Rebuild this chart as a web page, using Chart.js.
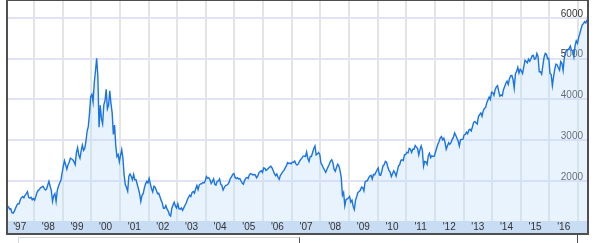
<!DOCTYPE html>
<html>
<head>
<meta charset="utf-8">
<script src="https://cdn.jsdelivr.net/npm/chart.js@4/dist/chart.umd.min.js"></script>
<style>
  html, body { margin: 0; padding: 0; background: #fff; }
  #wrap { position: relative; width: 596px; height: 243px; overflow: hidden; }
  #chart { position: absolute; left: 8px; top: 1px; }
  .edge { position: absolute; background: #4f4f4f; }
  .faint { position: absolute; border: 1px solid #d6d6d6; border-bottom: none; }
</style>
</head>
<body>
<div id="wrap">
  <canvas id="chart" width="579" height="232"></canvas>
  <div class="edge" style="left:6px;top:0;width:2px;height:235px"></div>
  <div class="edge" style="left:6px;top:0;width:583px;height:1px"></div>
  <div class="edge" style="left:587px;top:0;width:2px;height:235px"></div>
  <div class="edge" style="left:6px;top:233px;width:583px;height:2px"></div>
  <div class="faint" style="left:18px;top:237px;width:280px;height:10px;border-right:1px solid #555"></div>
  <div class="edge" style="left:577px;top:235px;width:1px;height:8px"></div>
</div>
<script>
// semi-monthly closes, first and second half of each month
const v1997 = [1290, 1380, 1370, 1310, 1320, 1220, 1210, 1260, 1330, 1400, 1440, 1440, 1540, 1590, 1620, 1590, 1650, 1690, 1740, 1600, 1580, 1600, 1540, 1570];
const v1998 = [1530, 1620, 1720, 1770, 1790, 1840, 1850, 1870, 1820, 1780, 1800, 1900, 1990, 1870, 1770, 1500, 1640, 1690, 1500, 1770, 1870, 1950, 2010, 2190];
const v1999 = [2350, 2500, 2400, 2290, 2400, 2460, 2560, 2540, 2520, 2470, 2400, 2690, 2820, 2640, 2560, 2740, 2880, 2750, 2800, 2970, 3220, 3340, 3660, 4070];
const v2000 = [4130, 3940, 4410, 4700, 5010, 4570, 3320, 3860, 3530, 3400, 3870, 3970, 4250, 3770, 3860, 4210, 3900, 3670, 3140, 3370, 2880, 2600, 2650, 2470];
const v2001 = [2630, 2770, 2560, 2150, 1920, 1840, 1750, 2120, 2170, 2110, 2030, 2160, 2030, 2030, 1920, 1810, 1690, 1500, 1650, 1690, 1830, 1930, 1990, 1950];
const v2002 = [2060, 1930, 1810, 1730, 1870, 1850, 1770, 1690, 1700, 1620, 1530, 1460, 1330, 1330, 1400, 1310, 1260, 1170, 1140, 1330, 1410, 1480, 1390, 1340];
const v2003 = [1440, 1320, 1310, 1340, 1280, 1340, 1400, 1460, 1540, 1600, 1650, 1620, 1720, 1740, 1700, 1810, 1890, 1790, 1900, 1930, 1930, 1960, 1950, 2000];
const v2004 = [2110, 2070, 2080, 2030, 1940, 1990, 2050, 1920, 1900, 1990, 2000, 2050, 1920, 1890, 1780, 1840, 1890, 1900, 1920, 1970, 2060, 2100, 2160, 2180];
const v2005 = [2090, 2060, 2080, 2050, 2060, 2000, 1950, 1920, 2010, 2070, 2090, 2060, 2150, 2180, 2170, 2150, 2160, 2150, 2080, 2120, 2200, 2230, 2250, 2210];
const v2006 = [2320, 2310, 2260, 2280, 2310, 2340, 2360, 2320, 2250, 2180, 2130, 2170, 2090, 2040, 2140, 2180, 2230, 2260, 2320, 2370, 2450, 2430, 2440, 2420];
const v2007 = [2460, 2460, 2490, 2420, 2390, 2420, 2480, 2530, 2560, 2610, 2610, 2600, 2710, 2550, 2480, 2600, 2600, 2700, 2800, 2860, 2640, 2660, 2700, 2650];
const v2008 = [2440, 2390, 2320, 2270, 2210, 2280, 2350, 2410, 2490, 2520, 2450, 2290, 2240, 2330, 2410, 2370, 2260, 2090, 1650, 1720, 1390, 1540, 1560, 1580];
const v2009 = [1620, 1480, 1530, 1380, 1300, 1530, 1620, 1720, 1740, 1770, 1850, 1840, 1760, 1980, 2000, 2010, 2080, 2120, 2140, 2050, 2160, 2150, 2210, 2270];
const v2010 = [2320, 2150, 2140, 2240, 2370, 2400, 2480, 2460, 2350, 2260, 2220, 2110, 2180, 2250, 2200, 2120, 2240, 2370, 2400, 2510, 2520, 2500, 2640, 2650];
const v2011 = [2700, 2690, 2800, 2780, 2700, 2780, 2780, 2870, 2830, 2800, 2640, 2770, 2860, 2760, 2360, 2480, 2470, 2410, 2620, 2680, 2570, 2620, 2600, 2610];
const v2012 = [2710, 2810, 2900, 2970, 3060, 3090, 3010, 3050, 2950, 2780, 2860, 2940, 2900, 2940, 3020, 3070, 3180, 3120, 3050, 2980, 2860, 3010, 3020, 3020];
const v2013 = [3130, 3140, 3200, 3160, 3250, 3270, 3230, 3330, 3440, 3460, 3430, 3400, 3580, 3630, 3670, 3590, 3720, 3780, 3800, 3920, 3990, 4060, 4000, 4180];
const v2014 = [4170, 4100, 4240, 4310, 4340, 4200, 4080, 4110, 4090, 4240, 4320, 4400, 4450, 4370, 4510, 4580, 4590, 4490, 4280, 4630, 4690, 4790, 4650, 4740];
const v2015 = [4700, 4640, 4800, 4960, 4930, 4900, 4990, 4940, 5000, 5070, 5080, 4990, 5000, 5130, 5050, 4680, 4680, 4620, 4830, 5030, 5130, 5110, 5000, 5010];
const v2016 = [4640, 4610, 4340, 4560, 4750, 4870, 4850, 4780, 4720, 4930, 4890, 4710, 5030, 5160, 5220, 5220, 5250, 5310, 5210, 5190, 5050, 5320, 5440, 5380];
const v2017 = [5520, 5620, 5730, 5830, 5860, 5910, 5880, 5960];

const seriesByYear = [
  [1997, v1997], [1998, v1998], [1999, v1999], [2000, v2000], [2001, v2001],
  [2002, v2002], [2003, v2003], [2004, v2004], [2005, v2005], [2006, v2006],
  [2007, v2007], [2008, v2008], [2009, v2009], [2010, v2010], [2011, v2011],
  [2012, v2012], [2013, v2013], [2014, v2014], [2015, v2015], [2016, v2016],
  [2017, v2017],
];

const yTicks = [2000, 3000, 4000, 5000, 6000];
const yearLabels = ["'97", "'98", "'99", "'00", "'01", "'02", "'03", "'04", "'05", "'06",
  "'07", "'08", "'09", "'10", "'11", "'12", "'13", "'14", "'15", "'16"];

const points = [];
seriesByYear.forEach(([year, vals]) => {
  vals.forEach((v, i) => points.push({ x: year + (i + 0.5) / 24, y: v }));
});

// paint the light blue band under the plot where the year labels sit
const bandPlugin = {
  id: "band",
  beforeDraw(chart) {
    const { ctx, chartArea } = chart;
    const xs = chart.scales.x;
    ctx.save();
    ctx.fillStyle = "#c8dcf4";
    ctx.fillRect(chartArea.left, chartArea.bottom, chartArea.right - chartArea.left, xs.bottom - chartArea.bottom);
    ctx.restore();
  },
};

// keep the axes from reserving room at the edges
function noPadding(scale) {
  scale.paddingTop = 0;
  scale.paddingBottom = 0;
  scale.paddingLeft = 0;
  scale.paddingRight = 0;
}

const yMin = 1018;
const yMax = 6417;

new Chart(document.getElementById("chart"), {
  type: "line",
  data: {
    datasets: [{
      data: points,
      borderColor: "#1a74e2",
      borderWidth: 1.4,
      backgroundColor: "rgba(190,222,248,0.35)",
      fill: "start",
      pointRadius: 0,
      tension: 0,
    }],
  },
  options: {
    responsive: false,
    animation: false,
    layout: { padding: 0 },
    plugins: { legend: { display: false }, tooltip: { enabled: false } },
    scales: {
      x: {
        type: "linear",
        min: 1997.091,
        max: 2017.313,
        afterBuildTicks(scale) {
          scale.ticks = yearLabels.map((_, i) => ({ value: 1997.5 + i }));
        },
        afterFit(scale) { scale.height = 12; noPadding(scale); },
        grid: { offset: true, color: "#e2e6e2", lineWidth: 2, drawTicks: false },
        border: { display: false },
        ticks: {
          padding: 0,
          maxRotation: 0,
          autoSkip: false,
          color: "#333",
          font: { family: "Liberation Sans", size: 10 },
          callback: (v) => yearLabels[Math.round(v - 1997.5)],
        },
      },
      y: {
        position: "right",
        min: yMin,
        max: yMax,
        afterBuildTicks(scale) {
          scale.ticks = yTicks.map((v) => ({ value: v }));
        },
        afterFit(scale) { scale.width = 0; noPadding(scale); },
        grid: { color: "#e2e2f7", lineWidth: 2, drawTicks: false },
        border: { display: false },
        ticks: { display: false },
      },
      // labels only, drawn above the filled line
      yLabels: {
        position: "right",
        z: 1,
        min: yMin,
        max: yMax,
        afterBuildTicks(scale) {
          scale.ticks = yTicks.map((v) => ({ value: v }));
        },
        afterFit(scale) { scale.width = 0; noPadding(scale); },
        grid: { display: false, drawTicks: false },
        border: { display: false },
        ticks: {
          mirror: true,
          padding: -4,
          labelOffset: -4,
          color: "#333",
          font: { family: "Liberation Sans", size: 10 },
          callback: (v) => String(v),
        },
      },
    },
  },
  plugins: [bandPlugin],
});
</script>
</body>
</html>
